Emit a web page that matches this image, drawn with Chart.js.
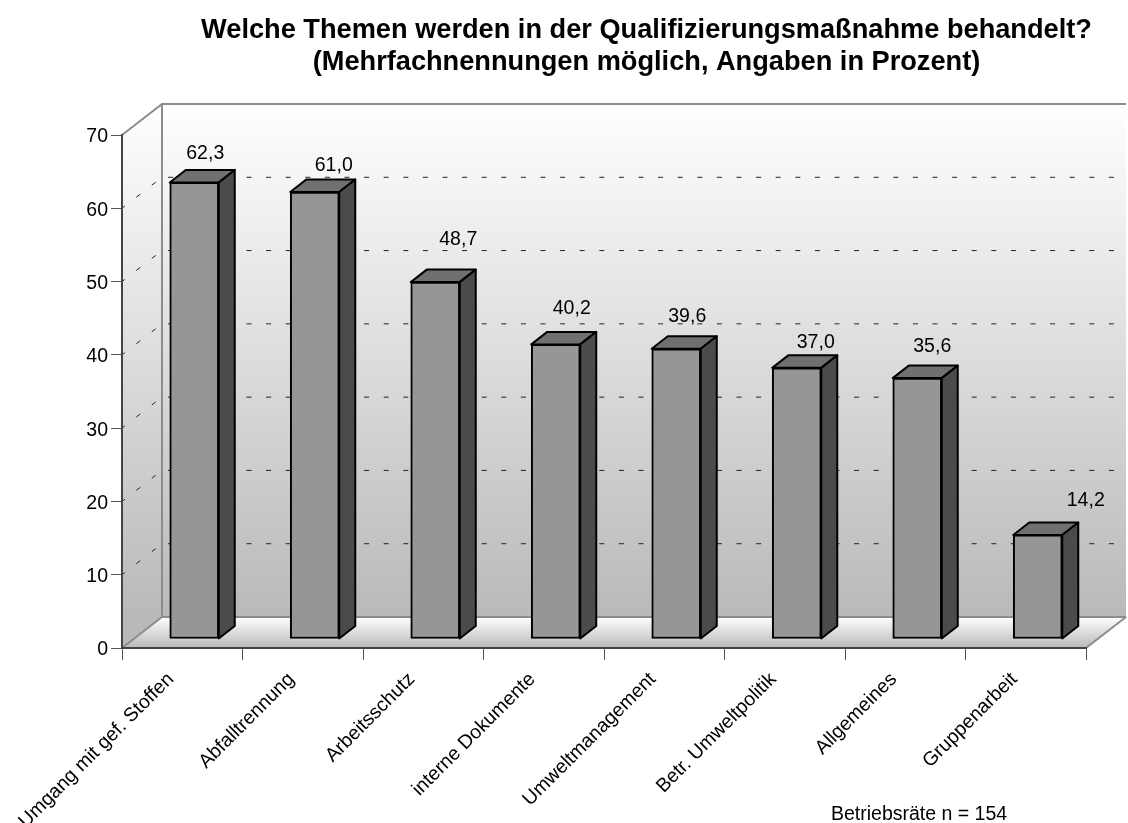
<!DOCTYPE html>
<html lang="de">
<head>
    <meta charset="UTF-8">
    <title>Qualifizierungsmaßnahme</title>
    <script src="https://cdn.jsdelivr.net/npm/chart.js"></script>
    <style>
        html, body { margin: 0; padding: 0; background: #fff; overflow: hidden; }
        canvas { display: block; }
    </style>
</head>
<body>
    <canvas id="themenChart" width="1128" height="823"></canvas>
    <script>
        const categories = ["Umgang mit gef. Stoffen", "Abfalltrennung", "Arbeitsschutz", "interne Dokumente", "Umweltmanagement", "Betr. Umweltpolitik", "Allgemeines", "Gruppenarbeit"];
        const values = [62.3, 61.0, 48.7, 40.2, 39.6, 37.0, 35.6, 14.2];
        const gridValues = [10, 20, 30, 40, 50, 60];
        const titleLines = ["Welche Themen werden in der Qualifizierungsmaßnahme behandelt?", "(Mehrfachnennungen möglich, Angaben in Prozent)"];
        const noteText = "Betriebsräte n = 154";

        const FONT = '"Liberation Sans", Arial, sans-serif';
        // depth of the fake 3D box and of the bars
        const WALL_DX = 40, WALL_DY = -31;
        const BAR_SHIFT_X = 12, BAR_SHIFT_Y = -9;
        const BAR_DX = 16, BAR_DY = -12.5;
        // the value labels sit at hand-placed spots in the original
        const labelNudgeX = [3, 11, 15, 8, 3, 11, 7, 40];
        const labelNudgeY = [-16, -14, -30, -23, -20, -13, -19, -22];

        function poly(ctx, pts) {
            ctx.beginPath();
            pts.forEach((p, i) => i ? ctx.lineTo(p[0], p[1]) : ctx.moveTo(p[0], p[1]));
            ctx.closePath();
        }

        const box3d = {
            id: "box3d",
            beforeDraw(chart) {
                const ctx = chart.ctx, a = chart.chartArea, yScale = chart.scales.y;
                const L = a.left, R = a.right, T = a.top, B = a.bottom;
                const bL = L + WALL_DX, bR = R + WALL_DX, bT = T + WALL_DY, bB = B + WALL_DY;
                ctx.save();

                let wall = ctx.createLinearGradient(0, bT, 0, bB);
                wall.addColorStop(0, "#ffffff");
                wall.addColorStop(1, "#b9b9b9");
                ctx.fillStyle = wall;
                ctx.fillRect(bL, bT, bR - bL, bB - bT);
                poly(ctx, [[L, T], [bL, bT], [bL, bB], [L, B]]);
                ctx.fill();

                let floor = ctx.createLinearGradient(0, bB, 0, B);
                floor.addColorStop(0, "#ffffff");
                floor.addColorStop(1, "#b9b9b9");
                ctx.fillStyle = floor;
                poly(ctx, [[L, B], [bL, bB], [bR, bB], [R, B]]);
                ctx.fill();

                // dashed grid on the side and back wall
                ctx.strokeStyle = "#222";
                ctx.lineWidth = 1;
                ctx.setLineDash([5, 14.6]);
                gridValues.forEach(v => {
                    const y = yScale.getPixelForValue(v);
                    ctx.lineDashOffset = 1.5;
                    ctx.beginPath();
                    ctx.moveTo(L, y);
                    ctx.lineTo(bL, y + WALL_DY);
                    ctx.stroke();
                    ctx.lineDashOffset = -6.1;
                    ctx.beginPath();
                    ctx.moveTo(bL, y + WALL_DY);
                    ctx.lineTo(bR, y + WALL_DY);
                    ctx.stroke();
                });
                ctx.setLineDash([]);

                // wall edges
                ctx.strokeStyle = "#8c8c8c";
                ctx.lineWidth = 2;
                ctx.beginPath();
                ctx.moveTo(L, T);
                ctx.lineTo(bL, bT);
                ctx.lineTo(bR, bT);
                ctx.moveTo(bL, bT);
                ctx.lineTo(bL, bB);
                ctx.lineTo(bR, bB);
                ctx.moveTo(L, B);
                ctx.lineTo(bL, bB);
                ctx.moveTo(R, B);
                ctx.lineTo(bR, bB);
                ctx.stroke();
                ctx.restore();
            },
            beforeDatasetsDraw(chart) {
                chart.ctx.save();
                chart.ctx.translate(BAR_SHIFT_X, BAR_SHIFT_Y);
            },
            afterDatasetsDraw(chart) {
                const ctx = chart.ctx;
                chart.getDatasetMeta(0).data.forEach(bar => {
                    const l = bar.x - bar.width / 2, r = bar.x + bar.width / 2, t = bar.y, b = bar.base;
                    ctx.strokeStyle = "#000";
                    ctx.lineWidth = 2;
                    ctx.lineJoin = "round";
                    ctx.fillStyle = "#707070";
                    poly(ctx, [[l, t], [l + BAR_DX, t + BAR_DY], [r + BAR_DX, t + BAR_DY], [r, t]]);
                    ctx.fill();
                    ctx.stroke();
                    ctx.fillStyle = "#4b4b4b";
                    poly(ctx, [[r, t], [r + BAR_DX, t + BAR_DY], [r + BAR_DX, b + BAR_DY], [r, b]]);
                    ctx.fill();
                    ctx.stroke();
                });
                ctx.restore();

                ctx.save();
                ctx.fillStyle = "#000";
                ctx.font = "19.5px " + FONT;
                ctx.textAlign = "center";
                ctx.textBaseline = "middle";
                chart.getDatasetMeta(0).data.forEach((bar, i) => {
                    const x = bar.x + BAR_SHIFT_X + BAR_DX / 2 + labelNudgeX[i];
                    const y = bar.y + BAR_SHIFT_Y + BAR_DY + labelNudgeY[i];
                    ctx.fillText(values[i].toFixed(1).replace(".", ","), x, y);
                });
                ctx.restore();
            },
            afterDraw(chart) {
                const ctx = chart.ctx;
                ctx.save();
                ctx.fillStyle = "#000";
                ctx.textBaseline = "alphabetic";
                ctx.textAlign = "center";
                ctx.font = "bold 27.2px " + FONT;
                ctx.fillText(titleLines[0], 646.5, 38);
                ctx.fillText(titleLines[1], 646.5, 70);
                ctx.textAlign = "left";
                ctx.font = "19.5px " + FONT;
                ctx.fillText(noteText, 831, 820);
                ctx.restore();
            }
        };

        new Chart(document.getElementById("themenChart"), {
            type: "bar",
            data: {
                labels: categories,
                datasets: [{
                    data: values,
                    backgroundColor: "#969696",
                    borderColor: "#000",
                    borderWidth: 2,
                    borderSkipped: false,
                    barThickness: 49,
                    clip: false
                }]
            },
            options: {
                responsive: false,
                animation: false,
                layout: { padding: { top: 135, right: 42, bottom: 0, left: 0 } },
                plugins: { legend: { display: false }, tooltip: { enabled: false } },
                scales: {
                    x: {
                        afterFit(scale) { scale.height = 175; },
                        border: { color: "#444", width: 2 },
                        grid: { offset: true, drawOnChartArea: false, color: "#555", tickLength: 12 },
                        ticks: {
                            autoSkip: false, minRotation: 45, maxRotation: 45, padding: 8, labelOffset: -11.5,
                            color: "#000", font: { family: FONT, size: 19.5 }
                        }
                    },
                    y: {
                        min: 0, max: 70,
                        afterFit(scale) { scale.width = 122; },
                        border: { color: "#444", width: 2 },
                        grid: { drawOnChartArea: false, color: "#555", tickLength: 11 },
                        ticks: {
                            stepSize: 10, padding: 3, labelOffset: 2,
                            color: "#000", font: { family: FONT, size: 19.5 }
                        }
                    }
                }
            },
            plugins: [box3d]
        });
    </script>
</body>
</html>
